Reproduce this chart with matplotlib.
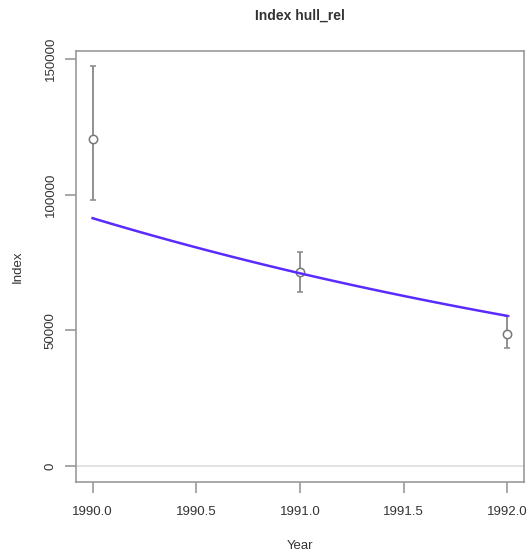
import matplotlib
matplotlib.use("Agg")
import matplotlib.pyplot as plt
import numpy as np

plt.rcParams['font.family'] = ['Liberation Sans', 'DejaVu Sans']

years = [1990, 1991, 1992]
index_obs = [120300, 71400, 48800]
index_lo = [97900, 64100, 43300]
index_hi = [147200, 79000, 55400]
fit_vals = [91300, 71000, 55300]

xticks = [1990.0, 1990.5, 1991.0, 1991.5, 1992.0]
yticks = [0, 50000, 100000, 150000]

fig = plt.figure(figsize=(5.31, 5.52), dpi=100)
ax = fig.add_axes([76/531, 1-482/552, (524-76)/531, (482-51)/552])

ax.axhline(0, color='#dddddd', lw=1.2, zorder=1)

obs = np.array(index_obs)
yerr = np.vstack([obs - np.array(index_lo), np.array(index_hi) - obs])
ax.errorbar(years, index_obs, yerr=yerr, fmt='o', mfc='white', mec='#777777',
            ecolor='#888888', color='#888888', ms=6, mew=1.1, elinewidth=1.3,
            capsize=2.5, capthick=1.3, zorder=3)

xf = np.linspace(years[0], years[-1], 50)
lf = np.interp(xf, years, np.log(fit_vals))
ax.plot(xf, np.exp(lf), color='#5a2bff', lw=1.8, zorder=4)

ax.set_xlim(1989.92, 1992.08)
ax.set_ylim(-5880, 152880)
ax.set_xticks(xticks)
ax.set_xticklabels([f"{t:.1f}" for t in xticks])
ax.set_yticks(yticks)
ax.set_yticklabels([str(t) for t in yticks], rotation=90, va='center')

for s in ax.spines.values():
    s.set_color('#999999')
    s.set_linewidth(1.2)
ax.tick_params(axis='both', colors='#999999', labelcolor='#333333', length=8,
               width=1.2, labelsize=9.5)
ax.tick_params(axis='x', pad=9)
ax.tick_params(axis='y', pad=6)

ax.set_xlabel('Year', fontsize=9.5, color='#333333', labelpad=16)
ax.set_ylabel('Index', fontsize=9.5, color='#333333', labelpad=15)
fig.text(0.5 * (76 + 524) / 531, 1 - 16/552, 'Index hull_rel', ha='center', va='center',
         fontsize=10, fontweight='bold', color='#333333')

fig.savefig('out.png', dpi=100)
